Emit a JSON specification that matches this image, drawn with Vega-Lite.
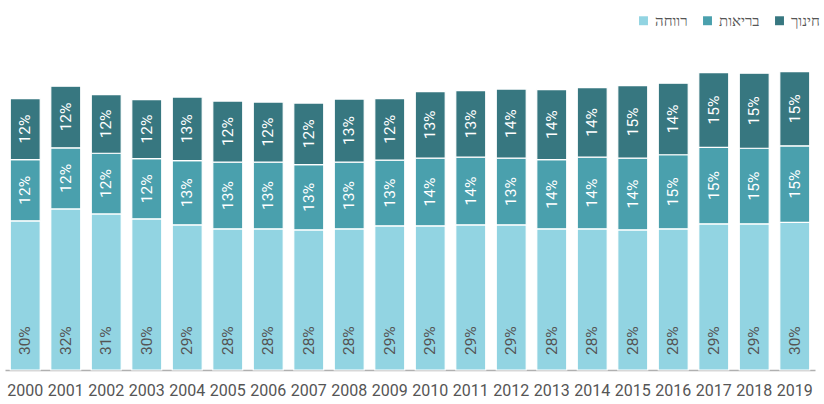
{
 "$schema": "https://vega.github.io/schema/vega-lite/v6.json",
 "width": 810,
 "height": 348,
 "autosize": {"type": "none"},
 "padding": {"left": 5, "top": 22, "right": 9, "bottom": 34},
 "background": "white",
 "config": {"view": {"stroke": null}, "font": "Roboto"},
 "datasets": {
  "budget": [
   {"year": "2000", "category": "רווחה", "ord": 1, "value": 0.300},
   {"year": "2000", "category": "בריאות", "ord": 2, "value": 0.123},
   {"year": "2000", "category": "חינוך", "ord": 3, "value": 0.123},
   {"year": "2001", "category": "רווחה", "ord": 1, "value": 0.324},
   {"year": "2001", "category": "בריאות", "ord": 2, "value": 0.123},
   {"year": "2001", "category": "חינוך", "ord": 3, "value": 0.124},
   {"year": "2002", "category": "רווחה", "ord": 1, "value": 0.314},
   {"year": "2002", "category": "בריאות", "ord": 2, "value": 0.122},
   {"year": "2002", "category": "חינוך", "ord": 3, "value": 0.118},
   {"year": "2003", "category": "רווחה", "ord": 1, "value": 0.304},
   {"year": "2003", "category": "בריאות", "ord": 2, "value": 0.121},
   {"year": "2003", "category": "חינוך", "ord": 3, "value": 0.119},
   {"year": "2004", "category": "רווחה", "ord": 1, "value": 0.292},
   {"year": "2004", "category": "בריאות", "ord": 2, "value": 0.129},
   {"year": "2004", "category": "חינוך", "ord": 3, "value": 0.128},
   {"year": "2005", "category": "רווחה", "ord": 1, "value": 0.284},
   {"year": "2005", "category": "בריאות", "ord": 2, "value": 0.134},
   {"year": "2005", "category": "חינוך", "ord": 3, "value": 0.123},
   {"year": "2006", "category": "רווחה", "ord": 1, "value": 0.284},
   {"year": "2006", "category": "בריאות", "ord": 2, "value": 0.134},
   {"year": "2006", "category": "חינוך", "ord": 3, "value": 0.121},
   {"year": "2007", "category": "רווחה", "ord": 1, "value": 0.282},
   {"year": "2007", "category": "בריאות", "ord": 2, "value": 0.131},
   {"year": "2007", "category": "חינוך", "ord": 3, "value": 0.124},
   {"year": "2008", "category": "רווחה", "ord": 1, "value": 0.284},
   {"year": "2008", "category": "בריאות", "ord": 2, "value": 0.134},
   {"year": "2008", "category": "חינוך", "ord": 3, "value": 0.127},
   {"year": "2009", "category": "רווחה", "ord": 1, "value": 0.290},
   {"year": "2009", "category": "בריאות", "ord": 2, "value": 0.132},
   {"year": "2009", "category": "חינוך", "ord": 3, "value": 0.124},
   {"year": "2010", "category": "רווחה", "ord": 1, "value": 0.290},
   {"year": "2010", "category": "בריאות", "ord": 2, "value": 0.136},
   {"year": "2010", "category": "חינוך", "ord": 3, "value": 0.134},
   {"year": "2011", "category": "רווחה", "ord": 1, "value": 0.292},
   {"year": "2011", "category": "בריאות", "ord": 2, "value": 0.136},
   {"year": "2011", "category": "חינוך", "ord": 3, "value": 0.134},
   {"year": "2012", "category": "רווחה", "ord": 1, "value": 0.292},
   {"year": "2012", "category": "בריאות", "ord": 2, "value": 0.134},
   {"year": "2012", "category": "חינוך", "ord": 3, "value": 0.139},
   {"year": "2013", "category": "רווחה", "ord": 1, "value": 0.284},
   {"year": "2013", "category": "בריאות", "ord": 2, "value": 0.139},
   {"year": "2013", "category": "חינוך", "ord": 3, "value": 0.141},
   {"year": "2014", "category": "רווחה", "ord": 1, "value": 0.284},
   {"year": "2014", "category": "בריאות", "ord": 2, "value": 0.144},
   {"year": "2014", "category": "חינוך", "ord": 3, "value": 0.140},
   {"year": "2015", "category": "רווחה", "ord": 1, "value": 0.282},
   {"year": "2015", "category": "בריאות", "ord": 2, "value": 0.144},
   {"year": "2015", "category": "חינוך", "ord": 3, "value": 0.146},
   {"year": "2016", "category": "רווחה", "ord": 1, "value": 0.284},
   {"year": "2016", "category": "בריאות", "ord": 2, "value": 0.149},
   {"year": "2016", "category": "חינוך", "ord": 3, "value": 0.144},
   {"year": "2017", "category": "רווחה", "ord": 1, "value": 0.294},
   {"year": "2017", "category": "בריאות", "ord": 2, "value": 0.154},
   {"year": "2017", "category": "חינוך", "ord": 3, "value": 0.150},
   {"year": "2018", "category": "רווחה", "ord": 1, "value": 0.294},
   {"year": "2018", "category": "בריאות", "ord": 2, "value": 0.152},
   {"year": "2018", "category": "חינוך", "ord": 3, "value": 0.151},
   {"year": "2019", "category": "רווחה", "ord": 1, "value": 0.297},
   {"year": "2019", "category": "בריאות", "ord": 2, "value": 0.154},
   {"year": "2019", "category": "חינוך", "ord": 3, "value": 0.149}
  ]
 },
 "data": {"name": "budget"},
 "transform": [
  {"stack": "value", "groupby": ["year"], "sort": [{"field": "ord", "order": "ascending"}], "as": ["v0", "v1"]},
  {"calculate": "(datum.v0 + datum.v1) / 2", "as": "labelPos"}
 ],
 "encoding": {
  "x": {
   "field": "year", "type": "ordinal",
   "scale": {"paddingInner": 0.26, "paddingOuter": 0.13},
   "axis": {"title": null, "ticks": false, "labelAngle": 0, "labelFontSize": 16, "labelColor": "#555555", "labelPadding": 12, "domainColor": "#b0b0b0", "domainWidth": 1.5, "grid": false}
  }
 },
 "layer": [
  {
   "mark": {"type": "bar", "stroke": "white", "strokeWidth": 1.2},
   "encoding": {
    "y": {"field": "v0", "type": "quantitative", "scale": {"domain": [0, 0.7]}, "axis": null},
    "y2": {"field": "v1"},
    "color": {
     "field": "category", "type": "nominal",
     "scale": {"domain": ["רווחה", "בריאות", "חינוך"], "range": ["#92d4e2", "#4aa0ad", "#377780"]},
     "legend": {"title": null, "orient": "none", "direction": "horizontal", "legendX": 631, "legendY": -9, "symbolType": "square", "symbolSize": 80, "symbolStrokeWidth": 0, "labelFontSize": 15, "labelColor": "#555555", "labelOffset": 4, "columnPadding": 12}
    }
   }
  },
  {
   "transform": [{"filter": "datum.ord > 1"}],
   "mark": {"type": "text", "angle": 270, "align": "center", "baseline": "middle", "fontSize": 15.5, "color": "white"},
   "encoding": {
    "y": {"field": "labelPos", "type": "quantitative"},
    "text": {"field": "value", "type": "quantitative", "format": ".0%"}
   }
  },
  {
   "transform": [{"filter": "datum.ord == 1"}],
   "mark": {"type": "text", "angle": 270, "align": "left", "baseline": "middle", "fontSize": 15.5, "color": "#555555"},
   "encoding": {
    "y": {"datum": 0.03, "type": "quantitative"},
    "text": {"field": "value", "type": "quantitative", "format": ".0%"}
   }
  }
 ]
}
